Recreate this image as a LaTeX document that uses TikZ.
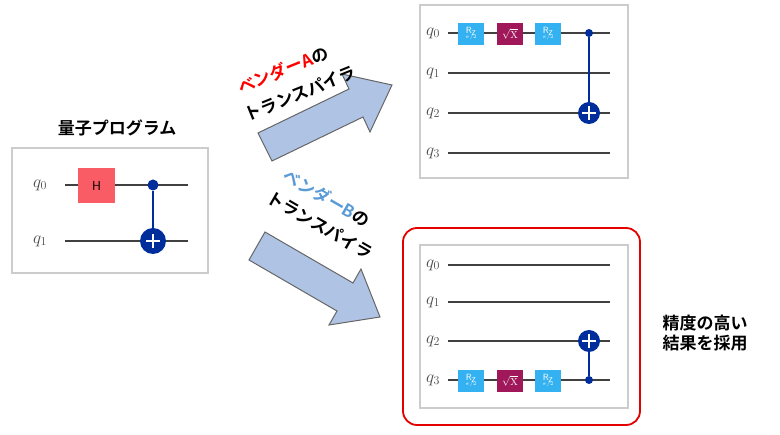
\documentclass[tikz,border=0pt]{standalone}
\usepackage{fontspec}
\newfontfamily\cjk{Noto Sans CJK JP}[BoldFont={* Bold}]
\definecolor{rzc}{HTML}{33B1F0}
\definecolor{sxc}{HTML}{A0185A}
\definecolor{hc}{HTML}{FA5C66}
\definecolor{cxc}{HTML}{002D9C}
\definecolor{arr}{HTML}{AFC3E4}
\definecolor{vb}{HTML}{5B9BD5}
\tikzset{
 cbox/.style={draw=black!20,line width=1.5pt,fill=white},
 wire/.style={draw=black!75,line width=1.5pt},
 ql/.style={text=black!70,font=\fontsize{17}{20}\selectfont},
 rz/.style={fill=rzc,minimum width=26pt,minimum height=22pt,inner sep=0pt,text=white,align=center,font=\sffamily\fontsize{9}{8}\selectfont},
 sx/.style={fill=sxc,minimum width=26pt,minimum height=22pt,inner sep=0pt,font=\sffamily\fontsize{10}{10}\selectfont,text=white},
 ctl/.style={circle,fill=cxc,minimum size=8pt,inner sep=0pt},
 tgt/.style={circle,fill=cxc,minimum size=22pt,inner sep=0pt,path picture={\draw[white,line width=2pt] ([xshift=-7pt]path picture bounding box.center)--([xshift=7pt]path picture bounding box.center) ([yshift=-7pt]path picture bounding box.center)--([yshift=7pt]path picture bounding box.center);}},
 bigarrow/.style={draw=black!60,fill=arr,line width=1pt,line join=miter},
 jt/.style={font=\cjk\bfseries\fontsize{17}{20}\selectfont,inner sep=1pt}
}
\newcommand\rzlabel{R\kern-0.5pt\raisebox{-1.5pt}{\fontsize{7}{7}\selectfont Z}\\[-3pt]{\fontsize{4}{4}\selectfont $\pi/2$}}
\begin{document}
\begin{tikzpicture}[x=1pt,y=-1pt]
\useasboundingbox (0,0) rectangle (780,435);
% left
\node[jt] (title) at (117,128) {量子プログラム};
\draw[cbox] (12,148) rectangle (208,273);
\coordinate (l0a) at (65,185); \coordinate (l0b) at (188,185);
\coordinate (l1a) at (65,241); \coordinate (l1b) at (188,241);
\draw[wire] (l0a)--(l0b); \draw[wire] (l1a)--(l1b);
\node[ql] (lq0) at (40,185) {$q_0$};
\node[ql] (lq1) at (40,241) {$q_1$};
\node[fill=hc,minimum width=37pt,minimum height=35pt,inner sep=0pt,font=\sffamily\fontsize{13}{13}\selectfont] (h) at (96.5,185.5) {H};
\node[ctl,minimum size=11pt] (lc) at (153,185) {};
\node[tgt,minimum size=26pt] (lt) at (153,241) {};
\draw[cxc,line width=1.8pt] (lc)--(lt);
% top right
\draw[cbox] (420,5) rectangle (628,178);
\foreach \i/\y in {0/33,1/73,2/113,3/153}{
 \draw[wire] (448,\y)--(610,\y);
 \node[ql] (aq\i) at (433,\y) {$q_\i$};}
\node[rz] (ar1) at (471,34) {\rzlabel};
\node[sx] (asx) at (510,34) {$\sqrt{\mathrm{X}}$};
\node[rz] (ar2) at (548,34) {\rzlabel};
\node[ctl] (ac) at (589,33) {};
\node[tgt] (at) at (589,113) {};
\draw[cxc,line width=1.5pt] (ac)--(at);
% bottom right
\draw[red!90!black,line width=1.8pt,rounded corners=14pt] (403,228) rectangle (640,425);
\draw[cbox] (420,245) rectangle (628,408);
\foreach \i/\y in {0/265,1/302,2/341,3/380}{
 \draw[wire] (448,\y)--(610,\y);
 \node[ql] (bq\i) at (433,\y) {$q_\i$};}
\node[rz] (br1) at (471,381) {\rzlabel};
\node[sx] (bsx) at (510,381) {$\sqrt{\mathrm{X}}$};
\node[rz] (br2) at (548,381) {\rzlabel};
\node[ctl] (bc) at (589,380) {};
\node[tgt] (bt) at (589,341) {};
\draw[cxc,line width=1.5pt] (bc)--(bt);
% arrows
\draw[bigarrow] (258,133)--(349,89)--(342,74)--(392,85)--(370,132)--(363,117)--(272,161)--cycle;
\draw[bigarrow] (265,232)--(353,283)--(361,269)--(380,317)--(329,325)--(337,311)--(249,260)--cycle;
\node[jt,rotate=22] (ta1) at (283,70) {\textcolor{red}{ベンダーA}の};
\node[jt,rotate=22] (ta2) at (300,93) {トランスパイラ};
\node[jt,rotate=-30] (tb1) at (327,198) {\textcolor{vb}{ベンダーB}の};
\node[jt,rotate=-30] (tb2) at (320,225) {トランスパイラ};
% right text
\node[jt,align=left] (res) at (705,333) {精度の高い\\結果を採用};
\end{tikzpicture}
\end{document}
